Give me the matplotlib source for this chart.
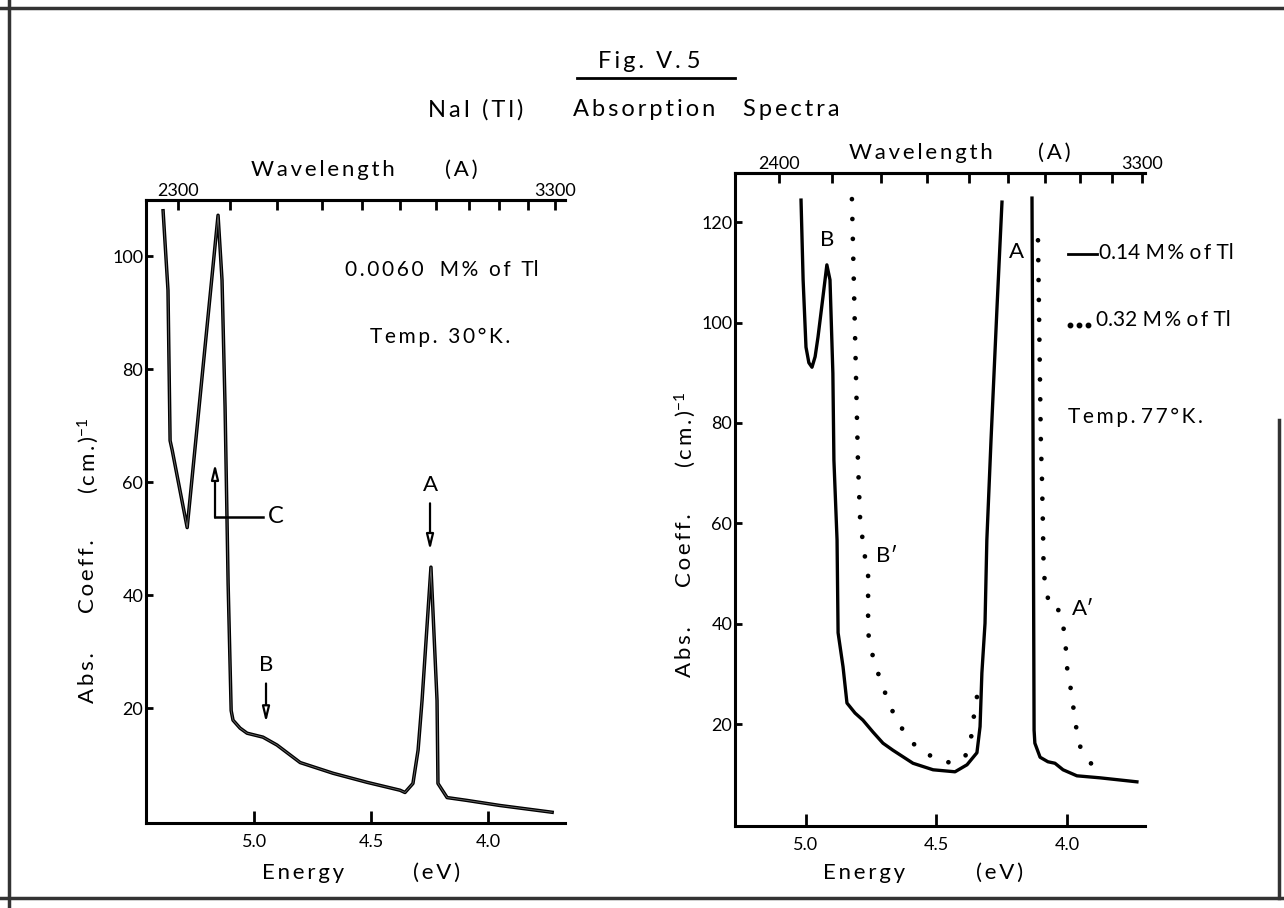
import numpy as np
import matplotlib
matplotlib.use('Agg')
import matplotlib.pyplot as plt
from matplotlib.lines import Line2D

plt.rcParams['font.family'] = ['Lato', 'DejaVu Sans']
plt.rcParams['mathtext.default'] = 'regular'

W, H = 1284, 908
HC = 12250  # eV*A used for the wavelength scale

# Left panel: 0.0060 M% Tl, 30 K
left_energy = [5.389, 5.368, 5.359, 5.350, 5.286, 5.154, 5.137, 5.124, 5.111, 5.098,
               5.090, 5.060, 5.030, 4.962, 4.902, 4.803, 4.662, 4.517, 4.376, 4.355,
               4.321, 4.299, 4.282, 4.244, 4.218, 4.214, 4.175, 4.090, 3.949, 3.726]
left_coeff = [108.1, 94.0, 67.4, 65.7, 52.0, 107.3, 95.8, 73.3, 42.1, 19.6,
              17.9, 16.5, 15.6, 14.9, 13.5, 10.4, 8.5, 6.9, 5.5, 5.1,
              6.7, 12.6, 21.4, 45.0, 21.4, 6.7, 4.2, 3.7, 2.8, 1.6]

# Right panel: 0.14 M% Tl (solid), two pieces either side of the A band
solid_b_energy = [5.019, 5.011, 5.000, 4.989, 4.977, 4.965, 4.954, 4.935, 4.920, 4.908,
                  4.897, 4.893, 4.881, 4.877, 4.858, 4.843, 4.812, 4.782, 4.743, 4.705,
                  4.667, 4.590, 4.513, 4.429, 4.383, 4.345, 4.333, 4.326, 4.314, 4.307,
                  4.291, 4.268, 4.249]
solid_b_coeff = [124.4, 108.5, 95.1, 92.0, 91.1, 93.2, 97.1, 105.1, 111.5, 108.5,
                 89.9, 72.6, 56.7, 38.2, 31.4, 24.2, 22.2, 20.8, 18.4, 16.2,
                 14.8, 12.2, 10.9, 10.5, 11.9, 14.3, 19.5, 30.2, 40.1, 56.7,
                 76.6, 103.1, 124.0]
solid_a_energy = [4.134, 4.130, 4.126, 4.123, 4.103, 4.073, 4.046, 4.015, 3.962, 3.874, 3.732]
solid_a_coeff = [124.8, 76.6, 18.8, 16.2, 13.4, 12.5, 12.2, 10.9, 9.7, 9.3, 8.5]

# Right panel: 0.32 M% Tl (dotted)
dot_b_energy = [4.824, 4.801, 4.793, 4.785, 4.782, 4.770, 4.762, 4.762, 4.762, 4.751,
                4.739, 4.724, 4.705, 4.686, 4.667, 4.644, 4.617, 4.586, 4.556, 4.517,
                4.475, 4.433, 4.391, 4.375, 4.360, 4.356, 4.345, 4.337]
dot_b_coeff = [124.6, 72.6, 61.3, 58.0, 54.7, 52.7, 50.1, 44.1, 38.2, 35.2,
               32.4, 30.2, 27.2, 25.0, 22.4, 20.2, 17.8, 16.0, 14.4, 13.6,
               12.5, 12.3, 13.4, 15.8, 19.0, 22.2, 25.4, 28.4]
dot_a_energy = [4.111, 4.100, 4.096, 4.092, 4.090, 4.088, 4.080, 4.073, 4.065, 4.046,
                4.023, 4.015, 4.008, 4.004, 4.000, 3.992, 3.981, 3.969, 3.958, 3.950,
                3.927, 3.904, 3.877]
dot_a_coeff = [116.4, 76.0, 69.3, 59.3, 52.7, 49.7, 47.1, 45.1, 43.3, 43.5,
               42.1, 39.7, 37.4, 34.8, 31.4, 28.8, 25.8, 20.4, 17.8, 15.6,
               13.5, 11.9, 10.5]

energy_ticks = [5.0, 4.5, 4.0]
left_yticks = [20, 40, 60, 80, 100]
right_yticks = [20, 40, 60, 80, 100, 120]
left_wl_ticks = list(range(2300, 3301, 100))
right_wl_ticks = list(range(2400, 3301, 100))


def px(x, y):
    # pixel position -> figure fraction
    return x / W, 1 - y / H


def spaced(s):
    # letter-spaced lettering
    return '\u2009'.join(s)


def put(x, y, s, size=15, **kw):
    kw.setdefault('ha', 'center')
    kw.setdefault('va', 'center')
    return fig.text(*px(x, y), s, fontsize=size, **kw)


def to_wl(e):
    with np.errstate(divide='ignore'):
        return HC / np.asarray(e, dtype=float)


def style_axes(ax, xlim, ylim, yticks, wl_ticks):
    ax.set_xlim(*xlim)
    ax.set_ylim(*ylim)
    ax.spines['right'].set_visible(False)
    for s in ['top', 'bottom', 'left']:
        ax.spines[s].set_linewidth(2.2)
    ax.set_xticks(energy_ticks)
    ax.set_xticklabels(['%.1f' % e for e in energy_ticks])
    ax.set_yticks(yticks)
    ax.tick_params(axis='x', direction='in', length=9, width=2, pad=8, labelsize=13)
    ax.tick_params(axis='y', direction='in', length=5, width=2, pad=2, labelsize=13)
    sec = ax.secondary_xaxis('top', functions=(to_wl, to_wl))
    sec.set_xticks(wl_ticks)
    labels = [''] * len(wl_ticks)
    labels[0] = str(wl_ticks[0])
    labels[-1] = str(wl_ticks[-1])
    sec.set_xticklabels(labels)
    sec.tick_params(direction='in', length=7, width=2, pad=1, labelsize=13)
    sec.spines['top'].set_linewidth(2.2)


fig = plt.figure(figsize=(W / 100, H / 100), dpi=100)
ax1 = fig.add_axes([146 / W, 1 - 823 / H, (565 - 146) / W, (823 - 200) / H])
ax2 = fig.add_axes([735 / W, 1 - 826 / H, (1145 - 735) / W, (826 - 173) / H])

style_axes(ax1, (5.462, 3.671), (-0.3, 110), left_yticks, left_wl_ticks)
style_axes(ax2, (5.272, 3.701), (-0.3, 129.8), right_yticks, right_wl_ticks)

# curves
ax1.plot(left_energy, left_coeff, color='black', lw=2.5, solid_joinstyle='round')
ax1.plot(left_energy, left_coeff, color='#6a6a6a', lw=0.6)

for e, c in [(solid_b_energy, solid_b_coeff), (solid_a_energy, solid_a_coeff)]:
    ax2.plot(e, c, color='black', lw=2.4, solid_joinstyle='round')
for e, c in [(dot_b_energy, dot_b_coeff), (dot_a_energy, dot_a_coeff)]:
    ax2.plot(e, c, color='black', lw=3.4, linestyle=(0, (0.01, 4.2)),
             dash_capstyle='round')

# band markers, left panel
arrow = dict(arrowstyle='-|>,head_length=0.9,head_width=0.22', fc='white',
             ec='black', lw=1.6, shrinkA=0, shrinkB=0)
ax1.annotate('', xy=(4.248, 48.0), xytext=(4.248, 56.3), arrowprops=arrow)
ax1.text(4.248, 59.5, 'A', ha='center', va='center', fontsize=16)
ax1.annotate('', xy=(4.949, 17.5), xytext=(4.949, 24.4), arrowprops=arrow)
ax1.text(4.949, 27.6, 'B', ha='center', va='center', fontsize=16)
ax1.plot([4.962, 5.167], [53.8, 53.8], color='black', lw=1.8)
ax1.annotate('', xy=(5.167, 63.3), xytext=(5.167, 53.8), arrowprops=arrow)
ax1.text(4.905, 54.0, 'C', ha='center', va='center', fontsize=17)

put(442, 270, spaced('0.0060') + '   ' + spaced('M%') + '  ' + spaced('of') + '  Tl')
put(440, 337, spaced('Temp.') + '  ' + spaced('30°K.'))

# band labels, right panel
ax2.text(4.920, 116.5, 'B', ha='center', va='center', fontsize=16)
ax2.text(4.192, 114.0, 'A', ha='center', va='center', fontsize=16)
ax2.text(4.692, 53.5, 'B′', ha='center', va='center', fontsize=16)
ax2.text(3.940, 43.0, 'A′', ha='center', va='center', fontsize=16)

# key, right panel
fig.add_artist(Line2D([1068 / W, 1097 / W], [1 - 254 / H] * 2, color='black', lw=2))
put(1099, 253, '0.14 ' + spaced('M%') + ' ' + spaced('of') + ' Tl', size=15, ha='left')
for xd in (1070, 1079, 1088):
    fig.add_artist(Line2D([xd / W], [1 - 325 / H], marker='o', ms=3.2, color='black'))
put(1096, 320, '0.32 ' + spaced('M%') + ' ' + spaced('of') + ' Tl', size=15, ha='left')
put(1068, 417, spaced('Temp.') + ' ' + spaced('77°K.'), ha='left')

# axis titles
cm = spaced('(cm.)') + '$^{-1}$'
for x0, y_abs in [(88, 678), (685, 652)]:
    put(x0, y_abs, spaced('Abs.'), size=16, rotation=90)
    put(x0, y_abs - 102, spaced('Coeff.'), size=16, rotation=90)
    put(x0, y_abs - 222, cm, size=16, rotation=90)

for xe, xv in [(303, 437), (864, 1000)]:
    put(xe, 873, spaced('Energy'), size=16)
    put(xv, 873, spaced('(eV)'), size=16)
for (xw, xa, yw) in [(323, 461, 170), (921, 1054, 153)]:
    put(xw, yw, spaced('Wavelength'), size=16)
    put(xa, yw, spaced('(A)'), size=16)

# heading
put(649, 62, spaced('Fig.') + '  ' + spaced('V.') + ' 5', size=17)
fig.add_artist(Line2D([577 / W, 735 / W], [1 - 78 / H] * 2, color='black', lw=2))
put(476, 110, spaced('NaI (Tl)'), size=17)
put(644, 110, spaced('Absorption'), size=17)
put(791, 110, spaced('Spectra'), size=17)

# page border
border = dict(color='#333333', lw=2.5)
fig.add_artist(Line2D([0, 1], [1 - 8 / H] * 2, **border))
fig.add_artist(Line2D([9 / W] * 2, [0, 1], **border))
fig.add_artist(Line2D([0, 1], [1 - 898 / H] * 2, **border))
fig.add_artist(Line2D([1279 / W] * 2, [1 - 898 / H, 1 - 420 / H], **border))

fig.savefig('out.png', dpi=100)
